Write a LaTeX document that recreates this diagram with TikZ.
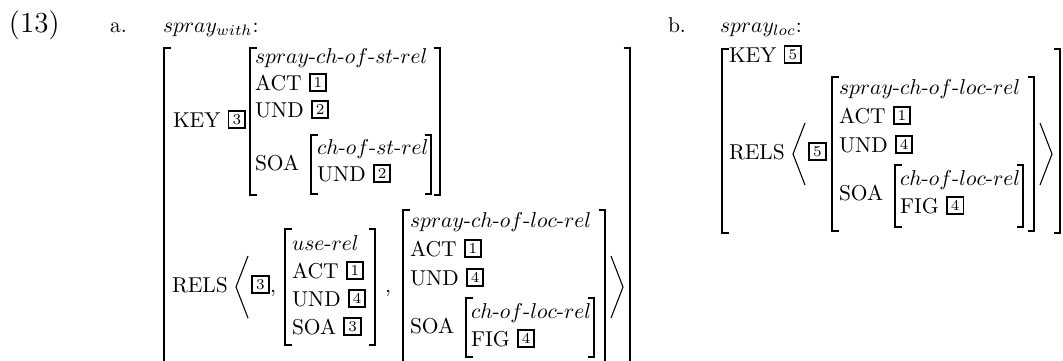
\documentclass[tikz,border=0pt]{standalone}
\usetikzlibrary{calc}
% hyphen inside math-italic sort names
\newcommand\hy{\mbox{-}}
% square brackets: x, top, bottom
\newcommand\brL[3]{\draw[brk] (#1+6.5,#2) -- (#1,#2) -- (#1,#3) -- (#1+6.5,#3);}
\newcommand\brR[3]{\draw[brk] (#1-6.5,#2) -- (#1,#2) -- (#1,#3) -- (#1-6.5,#3);}
% angle brackets: apex x, apex y
\newcommand\angL[2]{\draw[brk] (#1+12,#2-31) -- (#1,#2) -- (#1+12,#2+31);}
\newcommand\angR[2]{\draw[brk] (#1-12,#2-31) -- (#1,#2) -- (#1-12,#2+31);}
\tikzset{
  txt/.style={anchor=base west, inner sep=0pt, outer sep=0pt},
  brk/.style={line width=0.5pt, line cap=butt, line join=miter},
  tagbox/.style={draw, line width=0.9pt, inner sep=0pt, outer sep=0pt,
    minimum width=7.8pt, minimum height=7.8pt, font=\scriptsize, anchor=south west},
}
\begin{document}
\begin{tikzpicture}[x=0.46512pt, y=-0.46512pt]
\fill[white] (0,0) rectangle (1063,360);
\useasboundingbox (0,0) rectangle (1063,360);
\clip (0,0) rectangle (1063,360);

% headings
\node[txt, font=\fontsize{13.5}{16}\selectfont] (num) at (9,32) {(13)};
\node[txt] (la) at (110,32) {a.};
\node[txt] (ta) at (163,32) {$spray_{with}$:};
\node[txt] (lb) at (668,32) {b.};
\node[txt] (tb) at (720,32) {$spray_{loc}$:};

% ---------- (a) ----------
\brL{164}{48}{385}
\brR{630}{48}{385}

% KEY
\node[txt] (aKey) at (173,127) {KEY};
\node[tagbox] (aKeyT) at ($(aKey.base east)+(8,1)$) {3};
\brL{250}{48}{195}
\brR{440}{48}{195}
\node[txt] (aSort) at (255,63) {$spray\hy ch\hy of\hy st\hy rel$};
\node[txt] (aAct) at (255,90) {ACT};
\node[tagbox] (aActT) at ($(aAct.base east)+(8,1)$) {1};
\node[txt] (aUnd) at (255,117) {UND};
\node[tagbox] (aUndT) at ($(aUnd.base east)+(8,1)$) {2};
\node[txt] (aSoa) at (255,170) {SOA};
\brL{311}{135}{194}
\brR{431}{135}{194}
\node[txt] (aSoaSort) at (317,154) {$ch\hy of\hy st\hy rel$};
\node[txt] (aSoaUnd) at (317,181) {UND};
\node[tagbox] (aSoaUndT) at ($(aSoaUnd.base east)+(8,1)$) {2};

% RELS
\node[txt] (aRels) at (172,292) {RELS};
\angL{236}{287}
\node[tagbox] (aRelsT) at (252,293) {3};
\node[txt] (aCm1) at (270,292) {,};

\brL{285}{229}{345}
\brR{375}{229}{345}
\node[txt] (uSort) at (292,250) {$use\hy rel$};
\node[txt] (uAct) at (292,278) {ACT};
\node[tagbox] (uActT) at ($(uAct.base east)+(8,1)$) {1};
\node[txt] (uUnd) at (292,306) {UND};
\node[tagbox] (uUndT) at ($(uUnd.base east)+(8,1)$) {4};
\node[txt] (uSoa) at (292,334) {SOA};
\node[tagbox] (uSoaT) at ($(uSoa.base east)+(8,1)$) {3};
\node[txt] (aCm2) at (385,292) {,};

\brL{403}{210}{385}
\brR{605}{210}{385}
\node[txt] (sSort) at (410,227) {$spray\hy ch\hy of\hy loc\hy rel$};
\node[txt] (sAct) at (410,256) {ACT};
\node[tagbox] (sActT) at ($(sAct.base east)+(8,1)$) {1};
\node[txt] (sUnd) at (410,285) {UND};
\node[tagbox] (sUndT) at ($(sUnd.base east)+(8,1)$) {4};
\node[txt] (sSoa) at (410,333) {SOA};
\brL{466}{298}{357}
\brR{594}{298}{357}
\node[txt] (sSoaSort) at (471,318) {$ch\hy of\hy loc\hy rel$};
\node[txt] (sSoaFig) at (471,346) {FIG};
\node[tagbox] (sSoaFigT) at ($(sSoaFig.base east)+(8,1)$) {4};
\angR{623}{287}

% ---------- (b) ----------
\brL{722}{49}{233}
\brR{1060}{49}{233}
\node[txt] (bKey) at (729,62) {KEY};
\node[tagbox] (bKeyT) at ($(bKey.base east)+(8,1)$) {5};

\node[txt] (bRels) at (729,159) {RELS};
\angL{793}{154}
\node[tagbox] (bRelsT) at (809,160) {5};

\brL{832}{77}{231}
\brR{1034}{77}{231}
\node[txt] (bSort) at (839,94) {$spray\hy ch\hy of\hy loc\hy rel$};
\node[txt] (bAct) at (839,123) {ACT};
\node[tagbox] (bActT) at ($(bAct.base east)+(8,1)$) {1};
\node[txt] (bUnd) at (839,152) {UND};
\node[tagbox] (bUndT) at ($(bUnd.base east)+(8,1)$) {4};
\node[txt] (bSoa) at (839,200) {SOA};
\brL{895}{165}{227}
\brR{1023}{165}{227}
\node[txt] (bSoaSort) at (900,185) {$ch\hy of\hy loc\hy rel$};
\node[txt] (bSoaFig) at (900,213) {FIG};
\node[tagbox] (bSoaFigT) at ($(bSoaFig.base east)+(8,1)$) {4};
\angR{1052}{154}
\end{tikzpicture}
\end{document}
